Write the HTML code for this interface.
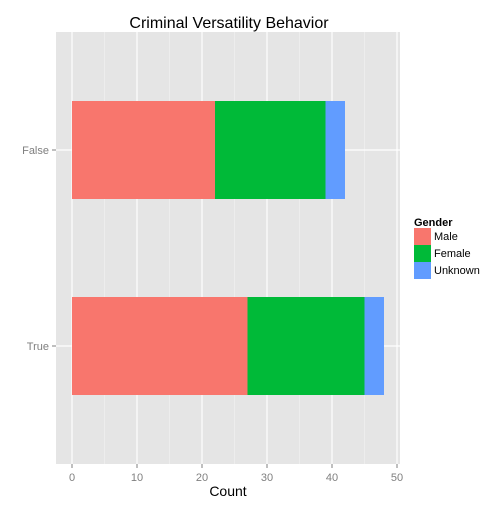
<!DOCTYPE html>
<html><head><meta charset="utf-8"><style>
body{margin:0;background:#fff;font-family:"Liberation Sans",Arial,sans-serif;}
</style></head><body>
<svg id="chart" width="504" height="504" xmlns="http://www.w3.org/2000/svg">
<rect width="504" height="504" fill="#fff"/>
<text x="229" y="28" font-size="16" text-anchor="middle">Criminal Versatility Behavior</text>
<rect id="panel" x="56" y="32" width="344" height="432" fill="#e5e5e5"/>
<g id="grid"></g><g id="bars"></g><g id="axes"></g>
<text x="228" y="496" font-size="14" text-anchor="middle">Count</text>
<g id="legend">
<text x="414" y="226" font-size="11" font-weight="bold">Gender</text>
</g>
</svg>
<script>
const categories=["False","True"];
const groups=["Male","Female","Unknown"];
const colors=["#f8766d","#00ba38","#619cff"];
const male=[22,27];
const female=[17,18];
const unknown=[3,3];
const xTicks=[0,10,20,30,40,50];
const NS="http://www.w3.org/2000/svg";
const x=v=>72+v*6.5;
const yc=i=>150+i*196;
const bw=98;
function mk(t,a,p){const e=document.createElementNS(NS,t);for(const k in a)e.setAttribute(k,a[k]);p.appendChild(e);return e;}
const grid=document.getElementById('grid'),bars=document.getElementById('bars'),axes=document.getElementById('axes'),legend=document.getElementById('legend');
for(let v=5;v<50;v+=10){const l=mk('line',{x1:x(v),x2:x(v),y1:32,y2:464,stroke:'#f2f2f2','stroke-width':0.6},grid);

}
xTicks.forEach(v=>{const l=mk('line',{x1:x(v),x2:x(v),y1:32,y2:464,stroke:'#fff','stroke-width':1.2},grid);


const t=mk('line',{x1:x(v),x2:x(v),y1:464,y2:468,stroke:'#7f7f7f'},axes);


const tx=mk('text',{x:x(v),y:481,'font-size':11,fill:'#7f7f7f','text-anchor':'middle'},axes);tx.textContent=v;

});
categories.forEach((c,i)=>{const l=mk('line',{x1:56,x2:400,y1:yc(i),y2:yc(i),stroke:'#fff','stroke-width':1.2},grid);


const t=mk('line',{x1:52,x2:56,y1:yc(i),y2:yc(i),stroke:'#7f7f7f'},axes);


const tx=mk('text',{x:49,y:yc(i)+4,'font-size':11,fill:'#7f7f7f','text-anchor':'end'},axes);tx.textContent=c;


const vals=[male[i],female[i],unknown[i]];let acc=0;
vals.forEach((v,g)=>{const r=mk('rect',{x:x(acc),y:yc(i)-bw/2,width:x(acc+v)-x(acc),height:bw,fill:colors[g]},bars);

acc+=v;});});
groups.forEach((g,i)=>{const r=mk('rect',{x:414,y:228+i*17,width:17,height:17,fill:colors[i]},legend);


const t=mk('text',{x:434,y:240+i*17,'font-size':11},legend);t.textContent=g;

});
</script>
</body></html>
